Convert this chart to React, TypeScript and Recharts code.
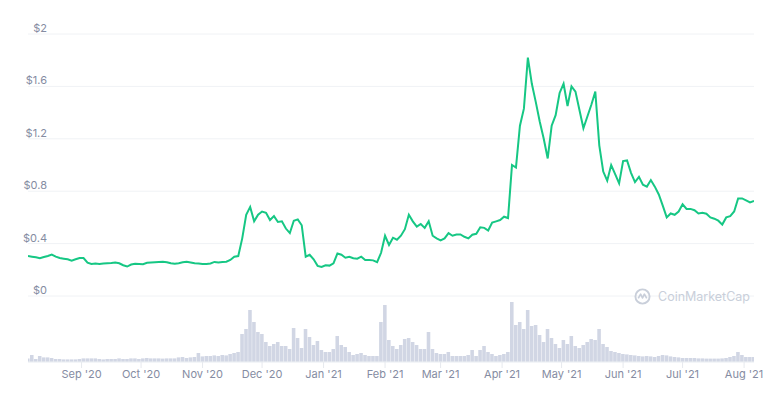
import React from 'react';
import { ComposedChart, Line, Bar, XAxis, YAxis, CartesianGrid } from 'recharts';

// price in USD, one reading every 2 days from 5 Aug 2020
const prices = [
  0.305, 0.3, 0.295, 0.288, 0.298, 0.305, 0.316, 0.3, 0.29, 0.285,
  0.28, 0.27, 0.28, 0.29, 0.29, 0.255, 0.245, 0.248, 0.245, 0.248,
  0.25, 0.252, 0.255, 0.25, 0.235, 0.225, 0.24, 0.246, 0.245, 0.243,
  0.254, 0.256, 0.258, 0.26, 0.262, 0.258, 0.25, 0.246, 0.25, 0.258,
  0.262, 0.256, 0.25, 0.248, 0.245, 0.244, 0.248, 0.26, 0.255, 0.26,
  0.262, 0.275, 0.3, 0.305, 0.44, 0.62, 0.68, 0.57, 0.62, 0.645,
  0.635, 0.58, 0.61, 0.565, 0.57, 0.515, 0.48, 0.575, 0.585, 0.54,
  0.3, 0.315, 0.28, 0.23, 0.222, 0.235, 0.232, 0.25, 0.325, 0.315,
  0.292, 0.3, 0.288, 0.285, 0.3, 0.275, 0.274, 0.272, 0.258, 0.33,
  0.46, 0.39, 0.445, 0.43, 0.46, 0.51, 0.62, 0.57, 0.53, 0.55,
  0.52, 0.57, 0.46, 0.44, 0.425, 0.44, 0.48, 0.46, 0.47, 0.47,
  0.452, 0.44, 0.468, 0.475, 0.525, 0.52, 0.5, 0.56, 0.57, 0.58,
  0.605, 0.595, 1.0, 0.98, 1.3, 1.43, 1.82, 1.62, 1.48, 1.33,
  1.2, 1.05, 1.3, 1.38, 1.55, 1.62, 1.45, 1.6, 1.56, 1.42,
  1.28, 1.37, 1.46, 1.56, 1.15, 0.95, 0.88, 1.0, 0.93, 0.86,
  1.03, 1.035, 0.94, 0.87, 0.91, 0.85, 0.835, 0.885, 0.835, 0.775,
  0.69, 0.6, 0.63, 0.62, 0.645, 0.7, 0.665, 0.665, 0.655, 0.63,
  0.635, 0.628, 0.6, 0.59, 0.575, 0.545, 0.6, 0.61, 0.645, 0.745,
  0.745, 0.73, 0.715, 0.725,
];

// 24h volume in $M, same dates
const volumes = [
  17, 35, 15, 30, 23, 23, 20, 15, 15, 13,
  13, 13, 13, 15, 18, 18, 18, 18, 15, 13,
  15, 15, 15, 18, 15, 15, 18, 18, 15, 18,
  20, 18, 18, 18, 17, 18, 18, 18, 23, 25,
  20, 23, 25, 45, 28, 30, 30, 33, 30, 35,
  33, 40, 45, 50, 140, 165, 260, 200, 150, 140,
  100, 80, 90, 100, 80, 80, 65, 170, 120, 70,
  165, 125, 85, 105, 60, 50, 50, 65, 130, 85,
  75, 50, 35, 40, 45, 35, 30, 30, 30, 200,
  285, 110, 80, 65, 85, 115, 120, 100, 85, 65,
  65, 150, 65, 45, 40, 40, 50, 30, 30, 30,
  30, 35, 60, 30, 60, 80, 50, 40, 30, 35,
  40, 50, 300, 185, 200, 165, 260, 180, 185, 135,
  100, 165, 120, 90, 70, 110, 90, 130, 80, 70,
  85, 100, 115, 110, 165, 90, 75, 55, 50, 45,
  40, 38, 35, 33, 30, 28, 30, 28, 25, 30,
  35, 33, 28, 25, 23, 20, 20, 20, 20, 18,
  18, 17, 17, 17, 17, 18, 20, 25, 30, 50,
  35, 25, 25, 25,
];

// day offsets of the month ticks and their labels
const monthDays = [27, 57, 88, 118, 149, 180, 208, 239, 269, 300, 330, 361];
const monthLabels = ["Sep '20", "Oct '20", "Nov '20", "Dec '20", "Jan '21", "Feb '21", "Mar '21", "Apr '21", "May '21", "Jun '21", "Jul '21", "Aug '21"];
const priceTicks = [0, 0.4, 0.8, 1.2, 1.6, 2];

const data = prices.map((p, i) => ({ day: i * 2, price: p, volume: volumes[i] }));

const labelColor = '#858CA2';
const font = 'Inter, "Noto Sans", sans-serif';

const PriceTick = (props: any) => {
  const { y, payload } = props;
  return (
    <text x={39} y={y - 2} textAnchor="end" fontSize={11} fill={labelColor} fontFamily={font}>
      {'$' + payload.value}
    </text>
  );
};

const App = () => {
  return (
    <div style={{ position: 'relative', width: 765, height: 380 }}>
      <ComposedChart
        width={765}
        height={380}
        data={data}
        margin={{ top: 26, right: 19, bottom: 6, left: 0 }}
      >
        <CartesianGrid yAxisId="price" vertical={false} stroke="#F0F2F5" />
        <XAxis
          dataKey="day"
          type="number"
          domain={[0, 366]}
          ticks={monthDays}
          tickFormatter={(d: number) => monthLabels[monthDays.indexOf(d)]}
          height={20}
          tick={{ fontSize: 11, fill: labelColor, fontFamily: font }}
          tickSize={6}
          tickLine={{ stroke: '#E6E9EE' }}
          axisLine={{ stroke: '#EFF2F5' }}
          allowDataOverflow
        />
        <YAxis
          yAxisId="price"
          width={20}
          domain={[-0.5038, 2]}
          ticks={priceTicks}
          allowDataOverflow
          axisLine={false}
          tickLine={false}
          tick={PriceTick}
        />
        <YAxis yAxisId="vol" hide domain={[0, 1640]} allowDataOverflow />
        <Bar
          yAxisId="vol"
          dataKey="volume"
          fill="#D1D6E4"
          barSize={4}
          isAnimationActive={false}
        />
        <Line
          yAxisId="price"
          dataKey="price"
          type="linear"
          stroke="#16C784"
          strokeWidth={2}
          dot={false}
          activeDot={false}
          isAnimationActive={false}
        />
      </ComposedChart>
      <div
        style={{
          position: 'absolute',
          left: 626,
          top: 280,
          display: 'flex',
          alignItems: 'center',
          gap: 7,
          color: '#C9CFDA',
          fontFamily: font,
          fontSize: 12.5,
        }}
      >
        <svg width={17} height={17} viewBox="0 0 18 18">
          <circle cx={9} cy={9} r={7.5} fill="none" stroke="#C9CFDA" strokeWidth={2} />
          <path d="M4.5 11 L7 6.5 L9 10.5 L11 6.5 L13.5 11" fill="none" stroke="#C9CFDA" strokeWidth={1.8} strokeLinejoin="round" />
        </svg>
        <span>CoinMarketCap</span>
      </div>
    </div>
  );
};

export default App;
